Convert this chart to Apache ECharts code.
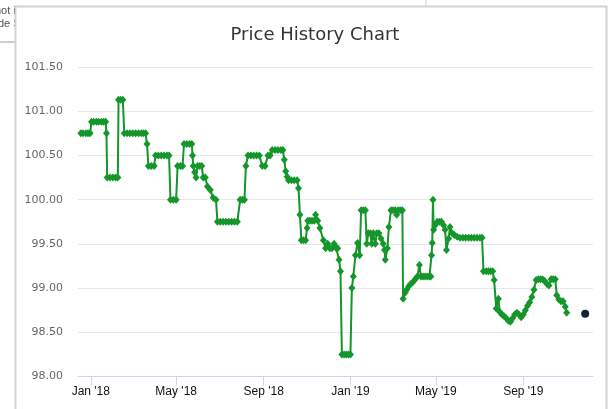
<!DOCTYPE html>
<html>
<head>
  <meta charset="utf-8">
  <script src="https://cdn.jsdelivr.net/npm/echarts@6/dist/echarts.min.js"></script>
  <style>
    html, body { margin: 0; padding: 0; background: #fff; }
    #main { width: 613px; height: 409px; }
  </style>
</head>
<body>
<div id="main"></div>
<script>
  // price points (date, price)
  const dates = [
    '2017-12-18', '2017-12-21', '2017-12-25', '2017-12-28', '2017-12-31',
    '2018-01-02', '2018-01-05', '2018-01-09', '2018-01-12', '2018-01-16', '2018-01-19', '2018-01-22',
    '2018-01-23', '2018-01-24', '2018-01-28', '2018-02-01', '2018-02-05', '2018-02-08',
    '2018-02-09', '2018-02-12', '2018-02-15',
    '2018-02-17', '2018-02-21', '2018-02-25', '2018-03-01', '2018-03-05', '2018-03-09', '2018-03-13', '2018-03-16', '2018-03-19',
    '2018-03-21', '2018-03-23', '2018-03-27', '2018-03-31',
    '2018-04-02', '2018-04-06', '2018-04-10', '2018-04-14', '2018-04-18', '2018-04-21',
    '2018-04-23', '2018-04-27', '2018-05-01', '2018-05-03', '2018-05-07', '2018-05-10',
    '2018-05-12', '2018-05-16', '2018-05-20', '2018-05-23', '2018-05-24', '2018-05-25', '2018-05-27', '2018-05-29',
    '2018-05-31', '2018-06-03', '2018-06-06', '2018-06-08', '2018-06-11', '2018-06-14', '2018-06-18', '2018-06-22', '2018-06-26',
    '2018-06-28', '2018-07-02', '2018-07-06', '2018-07-10', '2018-07-14', '2018-07-18', '2018-07-22', '2018-07-26',
    '2018-07-30', '2018-08-02', '2018-08-05', '2018-08-07',
    '2018-08-10', '2018-08-14', '2018-08-18', '2018-08-22', '2018-08-26', '2018-08-30', '2018-09-03', '2018-09-07', '2018-09-10',
    '2018-09-13', '2018-09-17', '2018-09-21', '2018-09-25', '2018-09-28', '2018-09-30', '2018-10-02', '2018-10-04',
    '2018-10-06', '2018-10-10', '2018-10-14', '2018-10-18', '2018-10-20', '2018-10-22',
    '2018-10-24', '2018-10-27', '2018-10-30', '2018-11-01', '2018-11-02', '2018-11-05', '2018-11-08', '2018-11-11',
    '2018-11-13', '2018-11-16', '2018-11-19', '2018-11-24', '2018-11-27', '2018-11-30', '2018-12-03', '2018-12-06',
    '2018-12-09', '2018-12-12', '2018-12-14', '2018-12-16', '2018-12-18',
    '2018-12-20', '2018-12-23', '2018-12-26', '2018-12-29', '2019-01-01',
    '2019-01-03', '2019-01-05', '2019-01-08', '2019-01-11', '2019-01-14', '2019-01-16', '2019-01-19', '2019-01-22',
    '2019-01-24', '2019-01-26', '2019-01-29', '2019-01-31', '2019-02-02', '2019-02-05', '2019-02-07', '2019-02-10',
    '2019-02-13', '2019-02-16', '2019-02-18', '2019-02-19', '2019-02-22', '2019-02-24',
    '2019-02-27', '2019-03-02', '2019-03-05', '2019-03-07', '2019-03-09', '2019-03-12', '2019-03-15',
    '2019-03-16', '2019-03-19', '2019-03-21', '2019-03-24', '2019-03-27', '2019-03-30', '2019-04-02', '2019-04-05',
    '2019-04-08', '2019-04-10', '2019-04-13', '2019-04-16', '2019-04-19', '2019-04-22', '2019-04-24',
    '2019-04-25', '2019-04-26', '2019-04-27', '2019-04-28', '2019-04-30', '2019-05-03', '2019-05-06', '2019-05-09',
    '2019-05-12', '2019-05-14', '2019-05-16', '2019-05-19', '2019-05-21', '2019-05-24', '2019-05-27', '2019-05-31',
    '2019-06-04', '2019-06-08', '2019-06-12', '2019-06-16', '2019-06-20', '2019-06-24', '2019-06-28', '2019-07-02', '2019-07-05',
    '2019-07-07', '2019-07-11', '2019-07-14', '2019-07-17', '2019-07-20', '2019-07-22',
    '2019-07-25', '2019-07-28', '2019-07-30', '2019-08-02', '2019-08-05', '2019-08-08', '2019-08-11', '2019-08-14',
    '2019-08-17', '2019-08-20', '2019-08-23', '2019-08-26', '2019-08-29', '2019-09-01', '2019-09-04', '2019-09-07',
    '2019-09-10', '2019-09-13', '2019-09-16', '2019-09-19', '2019-09-22', '2019-09-25', '2019-09-28',
    '2019-10-01', '2019-10-04', '2019-10-07', '2019-10-10', '2019-10-13', '2019-10-16', '2019-10-18',
    '2019-10-21', '2019-10-24', '2019-10-27', '2019-10-30', '2019-11-01'
  ];
  const prices = [
    100.75, 100.75, 100.75, 100.75, 100.75,
    100.88, 100.88, 100.88, 100.88, 100.88, 100.88, 100.88,
    100.75, 100.25, 100.25, 100.25, 100.25, 100.25,
    101.13, 101.13, 101.13,
    100.75, 100.75, 100.75, 100.75, 100.75, 100.75, 100.75, 100.75, 100.75,
    100.63, 100.38, 100.38, 100.38,
    100.5, 100.5, 100.5, 100.5, 100.5, 100.5,
    100.0, 100.0, 100.0, 100.38, 100.38, 100.38,
    100.63, 100.63, 100.63, 100.63, 100.5, 100.38, 100.31, 100.25,
    100.38, 100.38, 100.38, 100.25, 100.25, 100.15, 100.11, 100.02, 100.0,
    99.75, 99.75, 99.75, 99.75, 99.75, 99.75, 99.75, 99.75,
    100.0, 100.0, 100.0, 100.38,
    100.5, 100.5, 100.5, 100.5, 100.5, 100.38, 100.38, 100.5, 100.5,
    100.56, 100.56, 100.56, 100.56, 100.56, 100.45, 100.32, 100.26,
    100.22, 100.22, 100.22, 100.22, 100.13, 99.83,
    99.54, 99.54, 99.54, 99.68, 99.76, 99.76, 99.76, 99.76,
    99.83, 99.76, 99.68, 99.54, 99.45, 99.5, 99.45, 99.45,
    99.5, 99.45, 99.45, 99.32, 99.19,
    98.25, 98.25, 98.25, 98.25, 98.25,
    99.0, 99.13, 99.37, 99.51, 99.37, 99.88, 99.88, 99.88,
    99.5, 99.62, 99.62, 99.5, 99.62, 99.5, 99.62, 99.62,
    99.56, 99.5, 99.43, 99.32, 99.45, 99.69,
    99.88, 99.88, 99.88, 99.83, 99.88, 99.88, 99.88,
    98.88, 98.95, 98.98, 99.02, 99.05, 99.07, 99.1, 99.13,
    99.26, 99.13, 99.13, 99.13, 99.13, 99.13, 99.13,
    99.37, 99.51, 100.0, 99.66, 99.71, 99.75, 99.75, 99.75,
    99.71, 99.66, 99.43, 99.56, 99.69, 99.62, 99.6, 99.58,
    99.57, 99.57, 99.57, 99.57, 99.57, 99.57, 99.57, 99.57, 99.57,
    99.19, 99.19, 99.19, 99.19, 99.19, 99.09,
    98.77, 98.88, 98.73, 98.7, 98.68, 98.66, 98.63, 98.62,
    98.66, 98.7, 98.72, 98.7, 98.67, 98.7, 98.75, 98.8,
    98.84, 98.9, 98.98, 99.09, 99.1, 99.1, 99.1,
    99.08, 99.05, 99.03, 99.1, 99.1, 99.1, 98.92,
    98.87, 98.85, 98.85, 98.79, 98.72
  ];
  // the single dark point at the right
  const lastDate = '2019-11-27';
  const lastPrice = 98.71;

  const tickDates = ['2018-01-01', '2018-05-01', '2018-09-01', '2019-01-01', '2019-05-01', '2019-09-01'];
  const tickLabels = ["Jan '18", "May '18", "Sep '18", "Jan '19", "May '19", "Sep '19"];

  const ts = d => Date.parse(d);
  const tickTimes = tickDates.map(ts);
  const chart = echarts.init(document.getElementById('main'));

  chart.setOption({
    animation: false,
    graphic: [
      { type: 'rect', shape: { x: 15.5, y: 6.5, width: 591, height: 420 }, style: { fill: '#fff', stroke: '#d2d2d2', lineWidth: 2 }, z: -10 },
      { type: 'text', x: -5, y: 5, style: { text: 'not in', fill: '#555', font: '11px "Liberation Sans"' }, z: -20 },
      { type: 'text', x: -2, y: 18, style: { text: 'de Se', fill: '#555', font: '11px "Liberation Sans"' }, z: -20 },
      { type: 'rect', shape: { x: 0, y: 41, width: 15, height: 2 }, style: { fill: '#cfcfcf' } },
      { type: 'rect', shape: { x: 425.5, y: 0, width: 1, height: 6 }, style: { fill: '#cfcfcf' } }
    ],
    title: {
      text: 'Price History Chart',
      left: 310,
      textAlign: 'center',
      top: 21,
      textStyle: { fontFamily: 'DejaVu Sans', fontSize: 18, fontWeight: 'normal', color: '#333' }
    },
    grid: { left: 78, right: 20, top: 67, bottom: 32.5 },
    xAxis: {
      type: 'value',
      min: ts('2017-12-14'),
      max: ts('2019-12-08'),
      axisLine: { lineStyle: { color: '#ccd6eb' } },
      axisTick: { show: true, length: 9, lineStyle: { color: '#ccd6eb' }, customValues: tickTimes },
      axisLabel: {
        customValues: tickTimes,
        color: '#111',
        fontFamily: 'Liberation Sans',
        fontSize: 12,
        margin: 9,
        formatter: v => {
          const i = tickTimes.indexOf(+v);
          return i >= 0 ? tickLabels[i] : '';
        }
      },
      splitLine: { show: false }
    },
    yAxis: {
      type: 'value',
      min: 98,
      max: 101.5,
      interval: 0.5,
      axisLine: { show: false },
      axisTick: { show: false },
      axisLabel: {
        color: '#666',
        fontFamily: 'DejaVu Sans',
        fontSize: 11,
        margin: 15,
        formatter: v => v.toFixed(2)
      },
      splitLine: { lineStyle: { color: '#e6e6e6' } }
    },
    series: [
      {
        type: 'line',
        data: dates.map((d, i) => [ts(d), prices[i]]),
        symbol: 'diamond',
        symbolSize: [7, 8],
        showAllSymbol: true,
        lineStyle: { color: '#14962a', width: 2 },
        itemStyle: { color: '#14962a' }
      },
      {
        type: 'scatter',
        data: [[ts(lastDate), lastPrice]],
        symbol: 'circle',
        symbolSize: 8,
        itemStyle: { color: '#0d233a', opacity: 1 }
      }
    ]
  });
</script>
</body>
</html>
